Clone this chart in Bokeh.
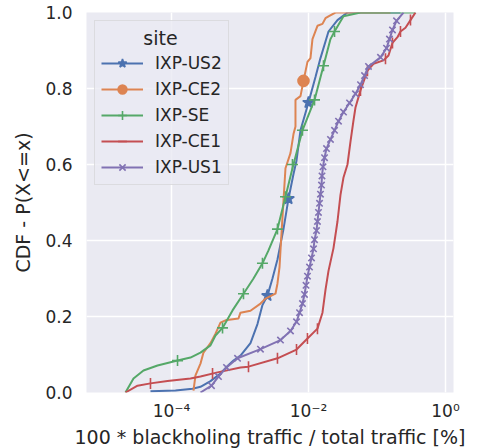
import numpy as np
from bokeh.plotting import figure
from bokeh.models import (Range1d, FixedTicker, CustomJSTickFormatter, PrintfTickFormatter,
                          Legend, LegendItem, ColumnDataSource)
from bokeh.embed import file_html
from bokeh.resources import INLINE

# ---------------- data (x stored as log10 of the percentage) ----------------
SITES = ["IXP-US2", "IXP-CE2", "IXP-SE", "IXP-CE1", "IXP-US1"]
COLORS = ["#4C72B0", "#DD8452", "#55A868", "#C44E52", "#8172B3"]

US2_LOG10_X = [-4.307, -3.942, -3.693, -3.577, -3.431, -3.285, -3.182, -3.095, -2.993, -2.847,
               -2.745, -2.672, -2.599, -2.526, -2.453, -2.365, -2.292, -2.219, -2.175, -2.117,
               -2.0, -1.898, -1.825, -1.708, -1.577, -1.431, -0.657]
US2_CDF = [0.003, 0.005, 0.01, 0.015, 0.03, 0.05, 0.07, 0.084, 0.097, 0.13,
           0.18, 0.23, 0.255, 0.30, 0.35, 0.43, 0.51, 0.575, 0.61, 0.69,
           0.763, 0.83, 0.88, 0.95, 0.98, 1.0, 1.0]
US2_MARK_LOG10_X = [-2.599, -2.292, -2.0]
US2_MARK_CDF = [0.255, 0.51, 0.763]

CE2_LOG10_X = [-3.679, -3.650, -3.577, -3.533, -3.431, -3.358, -3.285, -3.212, -3.022, -2.993,
               -2.847, -2.701, -2.628, -2.482, -2.453, -2.423, -2.409, -2.365, -2.336, -2.263,
               -2.219, -2.190, -2.190, -2.117, -2.073, -2.015, -1.971, -1.942, -1.869, -1.796,
               -1.752, -1.708, -1.606, -0.803]
CE2_CDF = [0.005, 0.045, 0.076, 0.105, 0.13, 0.155, 0.184, 0.19, 0.195, 0.21,
           0.215, 0.234, 0.247, 0.26, 0.287, 0.33, 0.374, 0.505, 0.59, 0.63,
           0.68, 0.70, 0.77, 0.78, 0.82, 0.87, 0.88, 0.93, 0.965, 0.97,
           0.985, 0.99, 1.0, 1.0]
CE2_MARK_LOG10_X = [-2.073]
CE2_MARK_CDF = [0.82]

SE_LOG10_X = [-4.672, -4.555, -4.409, -4.204, -3.912, -3.723, -3.577, -3.431, -3.358, -3.255,
              -3.109, -2.949, -2.803, -2.672, -2.584, -2.453, -2.336, -2.234, -2.088, -1.912,
              -1.781, -1.679, -1.620, -1.489, -1.241, -0.438]
SE_CDF = [0.0, 0.037, 0.058, 0.071, 0.084, 0.092, 0.105, 0.124, 0.15, 0.17,
          0.216, 0.26, 0.30, 0.34, 0.374, 0.43, 0.515, 0.59, 0.69, 0.77,
          0.86, 0.93, 0.95, 0.99, 1.0, 1.0]
SE_MARK_LOG10_X = [-3.912, -3.255, -2.949, -2.672, -2.453, -2.336, -2.234, -2.088, -1.912, -1.781, -1.620]
SE_MARK_CDF = [0.084, 0.17, 0.26, 0.34, 0.43, 0.515, 0.60, 0.69, 0.77, 0.86, 0.95]

CE1_LOG10_X = [-4.672, -4.496, -4.307, -4.058, -3.723, -3.577, -3.328, -2.993, -2.876, -2.453,
               -2.175, -2.015, -1.869, -1.796, -1.752, -1.708, -1.635, -1.577, -1.533, -1.489,
               -1.431, -1.387, -1.343, -1.314, -1.241, -1.139, -1.051, -0.905, -0.832, -0.774,
               -0.701, -0.657, -0.584, -0.511, -0.438]
CE1_CDF = [0.0, 0.018, 0.024, 0.03, 0.037, 0.042, 0.053, 0.066, 0.068, 0.09,
           0.113, 0.142, 0.168, 0.21, 0.27, 0.32, 0.38, 0.45, 0.52, 0.566,
           0.60, 0.66, 0.716, 0.75, 0.795, 0.847, 0.865, 0.874, 0.887, 0.92,
           0.935, 0.95, 0.96, 0.98, 1.0]
CE1_MARK_LOG10_X = [-4.307, -3.401, -2.876, -2.453, -2.175, -2.015, -1.869,
                    -1.241, -1.139, -0.876, -0.774, -0.657, -0.511]
CE1_MARK_CDF = [0.024, 0.05, 0.068, 0.09, 0.113, 0.142, 0.168,
                0.795, 0.847, 0.878, 0.92, 0.95, 0.98]

US1_LOG10_X = [-3.577, -3.416, -3.314, -3.197, -3.036, -2.701, -2.409, -2.263, -2.175, -2.131,
               -2.088, -2.058, -2.036, -2.015, -1.985, -1.956, -1.927, -1.912, -1.883, -1.869,
               -1.854, -1.839, -1.825, -1.810, -1.803, -1.788, -1.766, -1.737, -1.679, -1.620,
               -1.562, -1.489, -1.401, -1.314, -1.241, -1.182, -1.124, -0.949, -0.861, -0.818,
               -0.774, -0.715, -0.613]
US1_CDF = [0.0, 0.018, 0.042, 0.066, 0.09, 0.114, 0.138, 0.162, 0.186, 0.21,
           0.234, 0.258, 0.282, 0.306, 0.33, 0.354, 0.378, 0.402, 0.426, 0.45,
           0.474, 0.498, 0.522, 0.546, 0.57, 0.594, 0.618, 0.642, 0.666, 0.69,
           0.714, 0.738, 0.762, 0.786, 0.81, 0.834, 0.858, 0.882, 0.906, 0.93,
           0.954, 0.978, 1.0]
US1_MARK_LOG10_X = US1_LOG10_X[1:-1]
US1_MARK_CDF = US1_CDF[1:-1]

X_TICKS = [1e-4, 1e-2, 1e0]
Y_TICKS = [0.0, 0.2, 0.4, 0.6, 0.8, 1.0]
X_LABEL = "100 * blackholing traffic / total traffic [%]"
Y_LABEL = "CDF - P(X<=x)"
LEGEND_TITLE = "site"

FONT = "DejaVu Sans"
TXT = "#262626"

series = [
    (US2_LOG10_X, US2_CDF, US2_MARK_LOG10_X, US2_MARK_CDF, dict(marker="star", size=12, fill=True)),
    (CE2_LOG10_X, CE2_CDF, CE2_MARK_LOG10_X, CE2_MARK_CDF, dict(marker="circle", size=11, fill=True)),
    (SE_LOG10_X, SE_CDF, SE_MARK_LOG10_X, SE_MARK_CDF, dict(marker="cross", size=11, fill=False)),
    (CE1_LOG10_X, CE1_CDF, CE1_MARK_LOG10_X, CE1_MARK_CDF, dict(marker="dash", size=11, fill=False, angle=np.pi / 2)),
    (US1_LOG10_X, US1_CDF, US1_MARK_LOG10_X, US1_MARK_CDF, dict(marker="x", size=9, fill=False)),
]

p = figure(x_axis_type="log", output_backend="svg", toolbar_location=None,
           frame_width=367, frame_height=380,
           x_range=Range1d(10 ** -5.241, 10 ** 0.117), y_range=Range1d(0, 1),
           min_border_left=86, min_border_right=28, min_border_top=12, min_border_bottom=56)
p.background_fill_color = "#EAEAF2"
p.border_fill_color = "white"
p.outline_line_color = None

items = []
for (lx, cy, mlx, mcy, mk), name, col in zip(series, SITES, COLORS):
    src = ColumnDataSource(dict(x=10 ** np.array(lx), y=cy))
    msrc = ColumnDataSource(dict(x=10 ** np.array(mlx), y=mcy))
    lr = p.line("x", "y", source=src, line_color=col, line_width=2)
    kw = dict(marker=mk["marker"], size=mk["size"], line_color=col, line_width=1.6,
              fill_color=col if mk["fill"] else None)
    if "angle" in mk:
        kw["angle"] = mk["angle"]
    sr = p.scatter("x", "y", source=msrc, **kw)
    items.append(LegendItem(label=name, renderers=[lr, sr]))

# axes
p.xaxis.ticker = FixedTicker(ticks=X_TICKS, minor_ticks=[])
p.yaxis.ticker = FixedTicker(ticks=Y_TICKS, minor_ticks=[])
p.xaxis.formatter = CustomJSTickFormatter(code="""
const e = Math.round(Math.log10(tick));
const sup = {'-':'\u207b','0':'\u2070','1':'\u00b9','2':'\u00b2','3':'\u00b3','4':'\u2074',
             '5':'\u2075','6':'\u2076','7':'\u2077','8':'\u2078','9':'\u2079'};
return '10' + String(e).split('').map(c => sup[c]).join('');
""")
p.yaxis.formatter = PrintfTickFormatter(format="%.1f")
for ax in (p.xaxis[0], p.yaxis[0]):
    ax.axis_line_color = None
    ax.major_tick_line_color = None
    ax.minor_tick_line_color = None
    ax.major_tick_out = 0
    ax.major_tick_in = 0
    ax.minor_tick_out = 0
    ax.minor_tick_in = 0
    ax.major_label_text_font = FONT
    ax.major_label_text_font_size = "17px"
    ax.major_label_text_color = TXT
    ax.axis_label_text_font = FONT
    ax.axis_label_text_font_size = "19px"
    ax.axis_label_text_font_style = "normal"
    ax.axis_label_text_color = TXT
p.xaxis.axis_label = X_LABEL
p.yaxis.axis_label = Y_LABEL
p.xaxis.major_label_standoff = 8
p.yaxis.major_label_standoff = 14
p.xaxis.axis_label_standoff = 2
p.yaxis.axis_label_standoff = 8

p.xgrid.grid_line_color = "white"
p.ygrid.grid_line_color = "white"
p.xgrid.grid_line_width = 1.5
p.ygrid.grid_line_width = 1.5

# legend; the title is pushed toward the centre with non-breaking spaces
legend = Legend(items=items, location="top_left", title="\u00a0" * 7 + LEGEND_TITLE)
legend.margin = 8
legend.padding = 6
legend.spacing = 4
legend.glyph_width = 42
legend.glyph_height = 22
legend.label_height = 22
legend.label_standoff = 12
legend.label_text_font = FONT
legend.label_text_font_size = "17px"
legend.label_text_color = TXT
legend.title_text_font = FONT
legend.title_text_font_size = "19px"
legend.title_text_font_style = "normal"
legend.title_text_color = TXT
legend.title_standoff = 3
legend.background_fill_color = "#EAEAF2"
legend.background_fill_alpha = 0.8
legend.border_line_color = "#cccccc"
legend.border_line_width = 1
p.add_layout(legend, "center")

open("out.html", "w").write(file_html(p, INLINE))
